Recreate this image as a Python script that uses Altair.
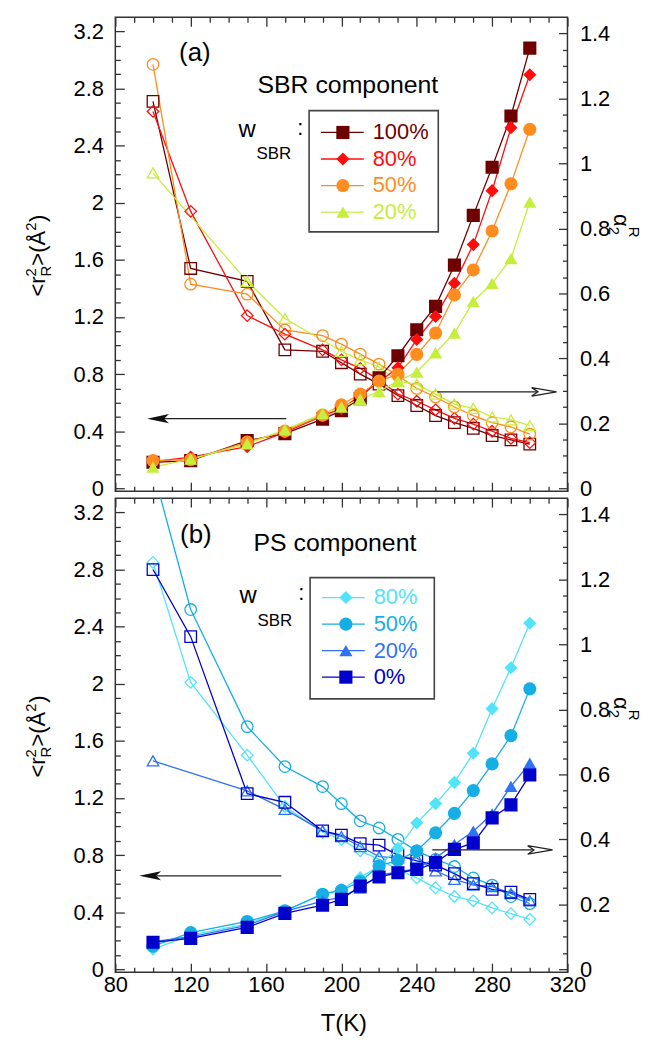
import altair as alt
import pandas as pd

FONT = "Liberation Sans"

# ---------------- data ----------------
T = [100, 120, 150, 170, 190, 200, 210, 220, 230, 240, 250, 260, 270, 280, 290, 300]

# panel (a): SBR component
SBR_LABELS = ["100%", "80%", "50%", "20%"]
SBR_COLORS = ["#6E0000", "#FF0D0D", "#FF8C1F", "#C6EE3C"]
SBR_SHAPES = ["square", "diamond", "circle", "triangle-up"]

SBR100_R2 = [2.71, 1.54, 1.45, 0.97, 0.96, 0.88, 0.80, 0.73, 0.65, 0.58, 0.51, 0.46, 0.42, 0.37, 0.34, 0.31]
SBR80_R2 = [2.64, 1.94, 1.21, 1.08, 0.97, 0.90, 0.84, 0.76, 0.66, 0.61, 0.55, 0.49, 0.45, 0.40, 0.35, 0.32]
SBR50_R2 = [2.97, 1.43, 1.36, 1.11, 1.07, 1.01, 0.94, 0.87, 0.79, 0.70, 0.64, 0.57, 0.51, 0.46, 0.43, 0.38]
SBR20_R2 = [2.21, None, 1.45, 1.19, None, 0.96, 0.90, 0.85, 0.75, 0.73, 0.66, 0.59, 0.56, 0.50, 0.48, 0.44]

SBR100_A = [0.080, 0.085, 0.147, 0.168, 0.213, 0.239, 0.276, 0.340, 0.408, 0.488, 0.560, 0.687, 0.840, 0.988, 1.146, 1.355]
SBR80_A = [0.082, 0.096, 0.128, 0.172, 0.223, 0.245, 0.285, 0.328, 0.371, 0.458, 0.529, 0.631, 0.750, 0.916, 1.110, 1.273]
SBR50_A = [0.085, 0.088, 0.142, 0.176, 0.225, 0.257, 0.290, 0.330, 0.351, 0.412, 0.478, 0.595, 0.672, 0.792, 0.937, 1.105]
SBR20_A = [0.065, 0.090, 0.137, 0.180, 0.230, 0.250, 0.274, 0.298, 0.330, 0.358, 0.417, 0.478, 0.575, 0.631, 0.707, 0.881]

# panel (b): PS component
PS_LABELS = ["80%", "50%", "20%", "0%"]
PS_COLORS = ["#52E3F8", "#15AEE5", "#2F72F3", "#0000CD"]
PS_SHAPES = ["diamond", "circle", "triangle-up", "square"]

PS80_R2 = [2.85, 2.01, 1.50, 1.14, 0.96, 0.91, 0.83, 0.77, 0.70, 0.64, 0.57, 0.51, 0.48, 0.43, 0.39, 0.35]
PS50_R2 = [3.50, 2.52, 1.70, 1.42, 1.28, 1.16, 1.04, 0.99, 0.91, 0.83, 0.77, 0.72, 0.64, 0.59, 0.51, 0.46]
PS20_R2 = [1.46, None, 1.25, 1.12, 0.97, 0.93, 0.86, 0.79, 0.78, 0.78, 0.69, 0.63, 0.59, 0.58, 0.53, 0.48]
PS0_R2 = [2.80, 2.33, 1.23, 1.17, 0.97, 0.94, 0.88, 0.87, 0.80, 0.76, 0.73, 0.67, 0.60, 0.56, 0.54, 0.49]

PS80_A = [0.062, 0.105, 0.140, 0.180, 0.231, 0.245, 0.282, 0.318, 0.372, 0.450, 0.510, 0.575, 0.665, 0.802, 0.928, 1.065]
PS50_A = [0.071, 0.113, 0.147, 0.180, 0.231, 0.243, 0.270, 0.318, 0.335, 0.364, 0.420, 0.480, 0.550, 0.632, 0.719, 0.863]
PS20_A = [0.085, 0.100, 0.135, 0.178, 0.210, 0.222, 0.250, 0.290, 0.300, 0.310, 0.343, 0.384, 0.425, 0.478, 0.563, 0.634]
PS0_A = [0.083, 0.095, 0.129, 0.172, 0.197, 0.215, 0.256, 0.284, 0.297, 0.307, 0.328, 0.369, 0.389, 0.466, 0.506, 0.598]

X_MAJOR = [80, 120, 160, 200, 240, 280, 320]
X_MINOR = [x for x in range(80, 321, 10) if x % 40]
YL_MAJOR = [0, 0.4, 0.8, 1.2, 1.6, 2, 2.4, 2.8, 3.2]
YL_MINOR = [round(0.1 * k, 2) for k in range(0, 33) if k % 4]
YR_MAJOR = [0, 0.2, 0.4, 0.6, 0.8, 1, 1.2, 1.4]
YR_MINOR = [round(0.05 * k, 3) for k in range(0, 29) if k % 4]

W, H = 455, 477


def long_df(values_list, labels, colors, shapes):
    rows = []
    for vals, lab, col, shp in zip(values_list, labels, colors, shapes):
        for t, v in zip(T, vals):
            if v is not None:
                rows.append({"T": t, "v": v, "series": lab, "color": col, "shape": shp})
    return pd.DataFrame(rows)


def axis(orient, values, tick, labels=False, pad=0, fmt="~g"):
    kw = dict(orient=orient, values=values, tickSize=alt.ExprRef(expr=str(-tick)),
              grid=False, domain=False, tickColor="#333333", tickWidth=1.3,
              labels=labels, title=None)
    if labels:
        kw.update(labelFont=FONT, labelFontSize=22, labelColor="black",
                  labelPadding=pad, labelFlush=False, labelOverlap=False, format=fmt)
    return alt.Axis(**kw)


def one():
    return pd.DataFrame([{"k": 0}])


def txt(text, x, y, size=22, angle=0, align="left", baseline="alphabetic", color="black"):
    return alt.Chart(pd.DataFrame({"t": [text]})).mark_text(
        font=FONT, fontSize=size, angle=angle, align=align, baseline=baseline, color=color
    ).encode(x=alt.value(x), y=alt.value(y), text="t:N")


LEFT_ARROW = "M-1,0L1,-0.42L0.55,0L1,0.42Z"
RIGHT_ARROW = "M1,0L-1,-0.34L-0.5,0L-1,0.34Z"


def arrows(ly, ltip, ltail, ry, rtail, rtip):
    d = one()
    lr, rr = 11, 12.5
    return [
        alt.Chart(d).mark_rule(color="#222222", strokeWidth=1.3).encode(
            x=alt.value(ltail), x2=alt.value(ltip + lr + 0.55 * lr), y=alt.value(ly)),
        alt.Chart(d).mark_point(shape=LEFT_ARROW, size=(2 * lr) ** 2, filled=True,
                                color="#111111", opacity=1).encode(
            x=alt.value(ltip + lr), y=alt.value(ly)),
        alt.Chart(d).mark_rule(color="#222222", strokeWidth=1.3).encode(
            x=alt.value(rtail), x2=alt.value(rtip - rr - 0.5 * rr), y=alt.value(ry)),
        alt.Chart(d).mark_point(shape=RIGHT_ARROW, size=(2 * rr) ** 2, filled=True,
                                fill="white", stroke="#222222", strokeWidth=1.3,
                                opacity=1).encode(
            x=alt.value(rtip - rr), y=alt.value(ry)),
    ]


def legend(labels, colors, shapes, box, y0, dy, line_x, mark_x, text_x):
    rows = [{"label": l, "color": c, "shape": s, "ly": y0 + i * dy}
            for i, (l, c, s) in enumerate(zip(labels, colors, shapes))]
    d = pd.DataFrame(rows)
    bx1, by1, bx2, by2 = box
    return [
        alt.Chart(one()).mark_rect(filled=False, stroke="#444444", strokeWidth=1.6).encode(
            x=alt.value(bx1), x2=alt.value(bx2), y=alt.value(by1), y2=alt.value(by2)),
        alt.Chart(d).mark_rule(strokeWidth=1.3).encode(
            x=alt.value(line_x[0]), x2=alt.value(line_x[1]),
            y=alt.Y("ly:Q", scale=None, axis=None),
            color=alt.Color("color:N", scale=None)),
        alt.Chart(d).mark_point(filled=True, size=175, opacity=1).encode(
            x=alt.value(mark_x), y=alt.Y("ly:Q", scale=None, axis=None),
            color=alt.Color("color:N", scale=None), shape=alt.Shape("shape:N", scale=None)),
        alt.Chart(d).mark_text(font=FONT, fontSize=22, align="left", baseline="middle").encode(
            x=alt.value(text_x), y=alt.Y("ly:Q", scale=None, axis=None), text="label:N",
            color=alt.Color("color:N", scale=None)),
    ]


def left_title(xb, y0):
    return [
        txt("<r", xb, y0, 22, 270),
        txt("2", xb - 9, y0 - 20, 15, 270),
        txt("R", xb + 6, y0 - 20, 15, 270),
        txt(">(Å", xb, y0 - 31, 22, 270),
        txt("2", xb - 9, y0 - 66, 15, 270),
        txt(")", xb, y0 - 75, 22, 270),
    ]


def right_title(xb, y0):
    return [
        txt("α", xb, y0, 22, 90),
        txt("2", xb - 5, y0 + 13, 15, 90),
        txt("R", xb + 15, y0 + 13, 15, 90),
    ]


def panel(r2_df, a_df, xlabels, extra):
    xs = alt.Scale(domain=[80, 320], nice=False, zero=False)
    yls = alt.Scale(domain=[-0.02, 3.3], nice=False, zero=False)
    yrs = alt.Scale(domain=[-0.009, 1.45], nice=False, zero=False)
    color = alt.Color("color:N", scale=None)
    shape = alt.Shape("shape:N", scale=None)

    open_line = alt.Chart(r2_df).mark_line(strokeWidth=1.3, clip=True).encode(
        x=alt.X("T:Q", scale=xs, axis=axis("bottom", X_MAJOR, 9, labels=xlabels, pad=11, fmt="d")),
        y=alt.Y("v:Q", scale=yls, axis=axis("left", YL_MAJOR, 9, labels=True, pad=21)),
        color=color, detail="series:N", order="T:Q")
    open_pts = alt.Chart(r2_df).mark_point(filled=False, size=135, strokeWidth=1.3,
                                           opacity=1, clip=True).encode(
        x=alt.X("T:Q", scale=xs, axis=axis("bottom", X_MINOR, 5)),
        y=alt.Y("v:Q", scale=yls, axis=axis("left", YL_MINOR, 5)),
        color=color, shape=shape)
    fill_line = alt.Chart(a_df).mark_line(strokeWidth=1.3, clip=True).encode(
        x=alt.X("T:Q", scale=xs, axis=axis("top", X_MAJOR, 9)),
        y=alt.Y("v:Q", scale=yrs, axis=axis("right", YR_MAJOR, 9, labels=True, pad=21)),
        color=color, detail="series:N", order="T:Q")
    fill_pts = alt.Chart(a_df).mark_point(filled=True, size=175, opacity=1, clip=True).encode(
        x=alt.X("T:Q", scale=xs, axis=axis("top", X_MINOR, 5)),
        y=alt.Y("v:Q", scale=yrs, axis=axis("right", YR_MINOR, 5)),
        color=color, shape=shape)

    return alt.layer(open_line, open_pts, fill_line, fill_pts, *extra).resolve_scale(
        y="independent").resolve_axis(x="independent", y="independent").properties(
        width=W, height=H)


sbr_r2 = long_df([SBR100_R2, SBR80_R2, SBR50_R2, SBR20_R2], SBR_LABELS, SBR_COLORS, SBR_SHAPES)
sbr_a = long_df([SBR100_A, SBR80_A, SBR50_A, SBR20_A], SBR_LABELS, SBR_COLORS, SBR_SHAPES)
ps_r2 = long_df([PS80_R2, PS50_R2, PS20_R2, PS0_R2], PS_LABELS, PS_COLORS, PS_SHAPES)
ps_a = long_df([PS80_A, PS50_A, PS20_A, PS0_A], PS_LABELS, PS_COLORS, PS_SHAPES)

extra_a = (
    [txt("(a)", 80, 36, 26, align="center", baseline="middle"),
     txt("SBR component", 234, 68, 25, align="center", baseline="middle"),
     txt("w", 124, 121, 24), txt("SBR", 142, 143, 17), txt(":", 183, 119, 22)]
    + legend(SBR_LABELS, SBR_COLORS, SBR_SHAPES, (195, 94, 325, 216), 116, 26.7,
             (207, 250), 229, 259)
    + arrows(404, 32, 172, 377, 324, 444)
    + left_title(-71, 281)
    + right_title(502, 198)
)

extra_b = (
    [txt("(b)", 81, 37, 26, align="center", baseline="middle"),
     txt("PS component", 221, 45, 25, align="center", baseline="middle"),
     txt("w", 125, 105, 24), txt("SBR", 143, 129, 17), txt(":", 184, 102, 22),
     txt("T(K)", 230, 529, 24, align="center", baseline="middle")]
    + legend(PS_LABELS, PS_COLORS, PS_SHAPES, (196, 80, 321, 202), 100, 26.7,
             (208, 251), 232, 260)
    + arrows(380, 24, 167, 354, 319, 440)
    + left_title(-71, 281)
    + right_title(502, 200)
)

pa = panel(sbr_r2, sbr_a, False, extra_a)
pb = panel(ps_r2, ps_a, True, extra_b)

chart = alt.vconcat(pa, pb, spacing=7, bounds="flush").properties(
    padding={"left": 15, "top": 4, "right": 0, "bottom": 0}
).configure_view(stroke="#333333", strokeWidth=1.5)

chart.save("out.html", embed_options={"renderer": "svg", "actions": False})
